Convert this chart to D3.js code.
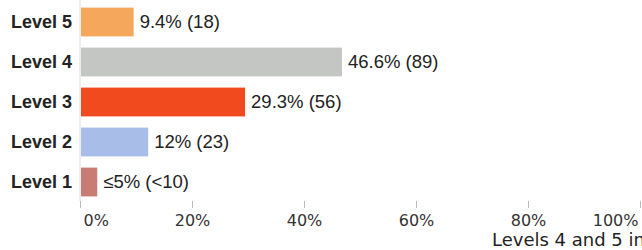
<!DOCTYPE html>
<html lang="en">
<head>
<meta charset="utf-8">
<script src="https://d3js.org/d3.v7.min.js"></script>
<style type="text/css">
body {
	margin: 0;
	background: #fff;
}
.cat {
	font: bold 18px "Liberation Sans", Arial, sans-serif;
	fill: #222;
}
.val {
	font: 18.5px "Liberation Sans", Arial, sans-serif;
	fill: #222;
}
.tick text {
	font: 16px "DejaVu Sans", Tahoma, sans-serif;
	fill: #333;
}
.note {
	font: 18px "DejaVu Sans", Tahoma, sans-serif;
	fill: #222;
}
</style>
</head>
<body>
<script type="text/javascript">

// chart data
var levels = ["Level 5", "Level 4", "Level 3", "Level 2", "Level 1"];
var percents = [9.4, 46.6, 29.3, 12, 2.9];
var valueLabels = ["9.4% (18)", "46.6% (89)", "29.3% (56)", "12% (23)", "\u22645% (<10)"];
var barColors = ["#f5a75c", "#c3c6c2", "#f24a1f", "#a9bde9", "#c97c73"];
var tickValues = [0, 20, 40, 60, 80, 100];

var width = 642;
var height = 250;

var svg = d3.select("body")
			.append("svg")
			.attr("width", width)
			.attr("height", height);

var x = d3.scaleLinear()
		  .domain([0, 100])
		  .range([80, 640]);

var y = d3.scaleBand()
		  .domain(levels)
		  .range([2, 202])
		  .paddingInner(0.28)
		  .paddingOuter(0.14);

// vertical baseline
svg.append("line")
	.attr("x1", x(0)).attr("x2", x(0))
	.attr("y1", 0).attr("y2", 201)
	.style("stroke", "#dcdcdc")
	.style("stroke-width", 1);

// bars
svg.selectAll("rect.bar")
	.data(levels)
	.enter()
	.append("rect")
	.attr("class", "bar")
	.attr("x", x(0) + 1)
	.attr("y", function(d) { return y(d); })
	.attr("width", function(d, i) { return x(percents[i]) - x(0); })
	.attr("height", y.bandwidth())
	.style("fill", function(d, i) { return barColors[i]; });

// category labels
svg.selectAll("text.cat")
	.data(levels)
	.enter()
	.append("text")
	.attr("class", "cat")
	.attr("x", 72)
	.attr("y", function(d) { return y(d) + y.bandwidth() / 2; })
	.attr("dy", "0.36em")
	.attr("text-anchor", "end")
	.text(function(d) { return d; });

// value labels
svg.selectAll("text.val")
	.data(levels)
	.enter()
	.append("text")
	.attr("class", "val")
	.attr("x", function(d, i) { return x(percents[i]) + 7; })
	.attr("y", function(d) { return y(d) + y.bandwidth() / 2; })
	.attr("dy", "0.3em")
	.text(function(d, i) { return valueLabels[i]; });

// x axis
var axis = svg.append("g")
	.attr("transform", "translate(0,201)")
	.call(d3.axisBottom(x)
		.tickValues(tickValues)
		.tickSize(7)
		.tickPadding(7)
		.tickFormat(function(d) { return d + "%"; }));

axis.select(".domain").remove();
axis.selectAll(".tick line").style("stroke", "#bbb");
axis.selectAll(".tick text")
	.attr("text-anchor", function(d) { return d == 0 ? "start" : (d == 100 ? "end" : "middle"); })
	.attr("dx", function(d) { return d == 0 ? 3 : (d == 100 ? -2 : 0); });

// cut-off caption at the bottom
svg.append("text")
	.attr("class", "note")
	.attr("x", 492)
	.attr("y", 246)
	.text("Levels 4 and 5 in");

</script>
</body>
</html>
